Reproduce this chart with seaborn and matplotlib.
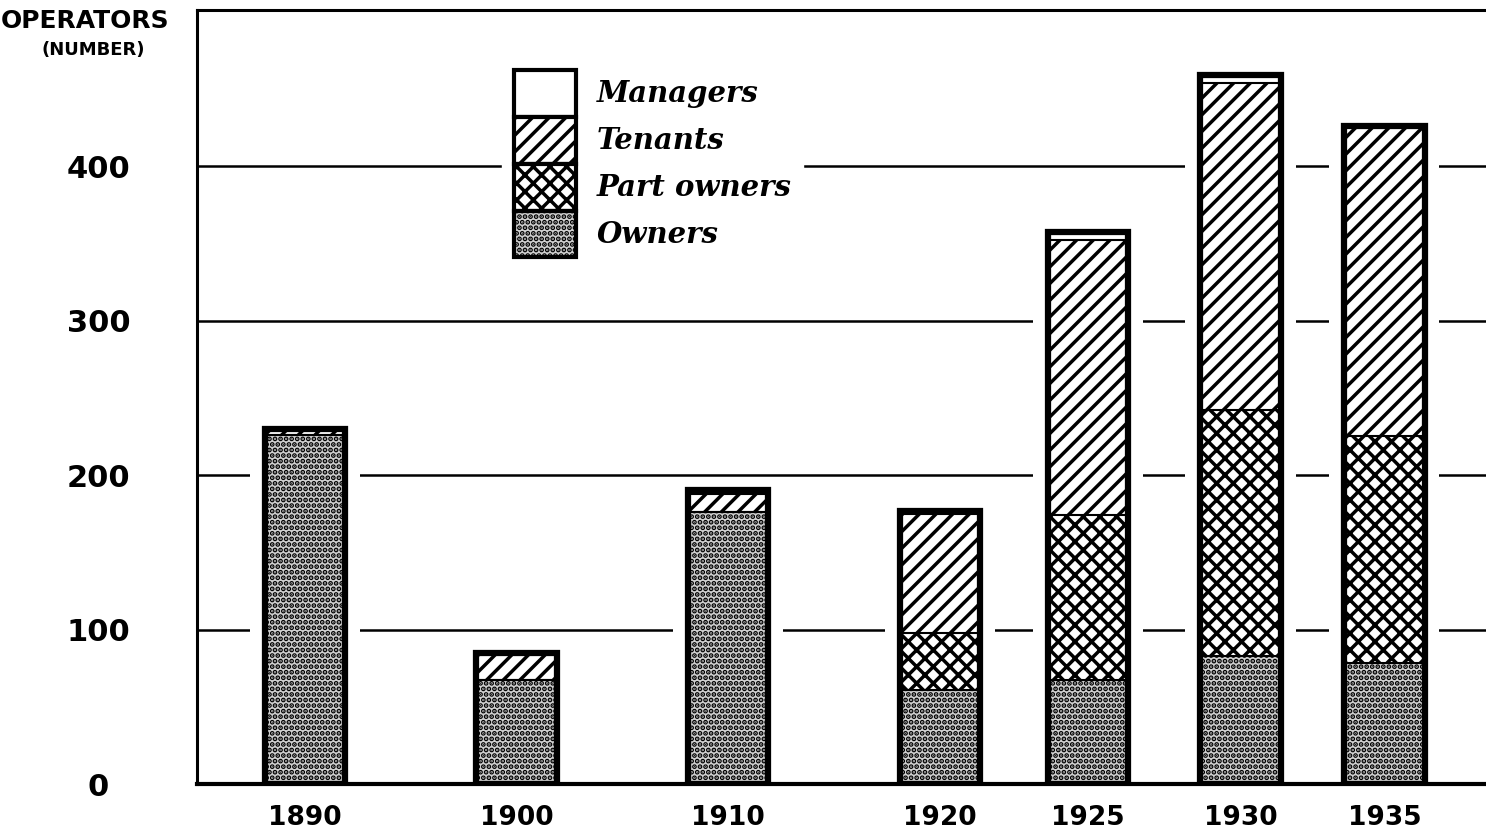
# Farm operators by tenure, stacked bars with hatch fills
import numpy as np
import pandas as pd
import seaborn as sns
import matplotlib.pyplot as plt
from matplotlib.patches import Patch

# Data
years = ['1890', '1900', '1910', '1920', '1925', '1930', '1935']
x_pos = [0, 1, 2, 3, 3.7, 4.42, 5.1]   # census years are not evenly spaced on the chart
owners = [226, 67, 176, 61, 67, 83, 78]
part_owners = [0, 0, 0, 37, 107, 159, 147]
tenants = [3, 18, 12, 77, 178, 212, 201]
managers = [1, 0, 2, 2, 5, 5, 0]
y_ticks = [0, 100, 200, 300, 400]

df = pd.DataFrame({'pos': x_pos, 'Owners': owners, 'Part owners': part_owners,
                   'Tenants': tenants, 'Managers': managers})
df['upto_part'] = df['Owners'] + df['Part owners']
df['upto_tenants'] = df['upto_part'] + df['Tenants']
df['total'] = df['upto_tenants'] + df['Managers']

sns.set_style('white')
plt.rcParams['font.family'] = ['DejaVu Sans']
plt.rcParams['text.color'] = 'black'
plt.rcParams['xtick.color'] = 'black'
plt.rcParams['ytick.color'] = 'black'
plt.rcParams['hatch.linewidth'] = 2.5

fig = plt.figure(figsize=(14.86, 8.34), dpi=100)
ax = fig.add_axes([197 / 1486, 50 / 834, 1289 / 1486, 774 / 834])

# bar widths on the native numeric scale
min_gap = np.diff(sorted(x_pos)).min()
bar_w = 0.38 / min_gap
back_w = 0.52 / min_gap
common = dict(data=df, x='pos', orient='x', native_scale=True, errorbar=None,
              saturation=1, ax=ax)

# white band around each bar that breaks the grid lines
sns.barplot(y='total', color='white', width=back_w, linewidth=0, **common)

# stacked layers, drawn from the top down so each covers the one above it
owner_fill = '#d0d0d0'
layers = [('total', 'white', ''),
          ('upto_tenants', 'white', '//'),
          ('upto_part', 'white', 'xx'),
          ('Owners', owner_fill, '...')]
for col, fc, hatch in layers:
    sns.barplot(y=col, color=fc, hatch=hatch, edgecolor='black', linewidth=1.5,
                width=bar_w, **common)

# heavy outline
sns.barplot(y='total', fill=False, color='black', linewidth=4.5, width=bar_w, **common)

# axes
ax.set_xlim(-0.51, 5.58)
ax.set_ylim(0, 501)
ax.set_xticks(x_pos, years)
ax.set_yticks(y_ticks)
ax.set_xlabel('')
ax.set_ylabel('')
ax.yaxis.grid(True, color='black', linewidth=1.8)
ax.xaxis.grid(False)
ax.set_axisbelow(True)
ax.tick_params(axis='both', length=0, colors='black')
ax.tick_params(axis='x', labelsize=19, pad=15)
ax.tick_params(axis='y', labelsize=22, pad=71)
for lab in ax.get_yticklabels():
    lab.set_horizontalalignment('center')
for lab in ax.get_xticklabels() + ax.get_yticklabels():
    lab.set_fontweight('bold')

ax.spines['right'].set_visible(False)
for side, lw in [('left', 2.2), ('top', 2.2), ('bottom', 3.0)]:
    ax.spines[side].set_color('black')
    ax.spines[side].set_linewidth(lw)

# legend drawn as a small stacked bar
handles = [Patch(facecolor='white', edgecolor='black', lw=3, label='Managers'),
           Patch(facecolor='white', edgecolor='black', lw=3, hatch='//', label='Tenants'),
           Patch(facecolor='white', edgecolor='black', lw=3, hatch='xx', label='Part owners'),
           Patch(facecolor=owner_fill, edgecolor='black', lw=3, hatch='...', label='Owners')]
leg = ax.legend(handles=handles, loc='upper left', bbox_to_anchor=(0.237, 0.938),
                prop=dict(family='DejaVu Serif', style='italic', weight='bold', size=21),
                handlelength=2.12, handleheight=2.1, labelspacing=0,
                handletextpad=0.7, borderpad=0.4, borderaxespad=0,
                frameon=True, framealpha=1, fancybox=False)
leg.get_frame().set_edgecolor('white')
leg.get_frame().set_facecolor('white')

# y axis title in the corner
fig.text(85 / 1486, 1 - 21 / 834, 'OPERATORS', ha='center', va='center',
         fontsize=18, fontweight='bold')
fig.text(93 / 1486, 1 - 50 / 834, '(NUMBER)', ha='center', va='center',
         fontsize=13, fontweight='bold')

fig.savefig('out.png', dpi=100)
